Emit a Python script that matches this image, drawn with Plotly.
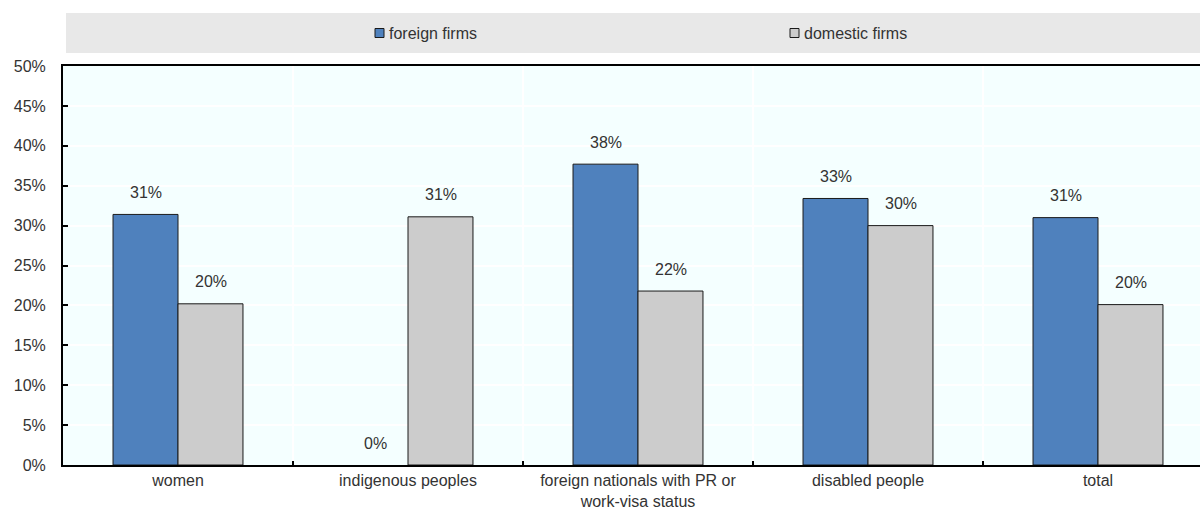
import plotly.graph_objects as go

# Share of firms, by group and ownership
categories = ["women", "indigenous peoples", "foreign nationals with PR or<br>work-visa status",
              "disabled people", "total"]
foreign_firms = [0.314, 0.0, 0.377, 0.334, 0.310]
domestic_firms = [0.202, 0.311, 0.218, 0.300, 0.201]
series_names = ["foreign firms", "domestic firms"]
series_colors = ["#4F81BD", "#CCCCCC"]
y_ticks = [0, 0.05, 0.10, 0.15, 0.20, 0.25, 0.30, 0.35, 0.40, 0.45, 0.50]

W, H = 1200, 511
M_L, M_R, M_T, M_B = 63, 0, 66, 46
PW, PH = W - M_L - M_R, H - M_T - M_B
FONT = "Liberation Sans, Arial, sans-serif"
TXT = "#333333"


def px(x):
    return (x - M_L) / PW


def py(y):
    return (H - M_B - y) / PH


fig = go.Figure()
for name, vals, col in zip(series_names, [foreign_firms, domestic_firms], series_colors):
    fig.add_trace(go.Bar(
        x=categories, y=vals, name=name,
        marker=dict(color=col,
                    line=dict(color="#1a1a1a", width=[0 if v == 0 else 1 for v in vals])),
        showlegend=False,
    ))

# value labels above the bars
annotations = []
for k, vals in enumerate([foreign_firms, domestic_firms]):
    shift = -32.5 if k == 0 else 32.5
    for c, v in zip(categories, vals):
        annotations.append(dict(
            x=c, y=v, xref="x", yref="y", text=f"{round(v * 100):.0f}%",
            showarrow=False, xshift=shift, yshift=22, yanchor="middle",
            font=dict(family=FONT, size=16, color=TXT),
        ))

# legend band
shapes = [dict(type="rect", xref="paper", yref="paper",
               x0=px(66), x1=1.0, y0=py(53), y1=py(13),
               fillcolor="#E8E8E8", line=dict(width=0), layer="below")]
for name, col, sx in zip(series_names, series_colors, [375, 790]):
    shapes.append(dict(type="rect", xref="paper", yref="paper",
                       x0=px(sx), x1=px(sx + 9), y0=py(37.5), y1=py(28.5),
                       fillcolor=col, line=dict(color="#1a1a1a", width=1)))
    annotations.append(dict(x=px(sx + 12), y=py(33), xref="paper", yref="paper",
                            text=name, showarrow=False, xanchor="left", yanchor="middle",
                            font=dict(family=FONT, size=16, color=TXT)))

fig.update_layout(
    width=W, height=H,
    margin=dict(l=M_L, r=M_R, t=M_T, b=M_B, pad=0),
    paper_bgcolor="white", plot_bgcolor="#F4FFFF",
    barmode="group", bargap=0.435, bargroupgap=0,
    font=dict(family=FONT, size=16, color=TXT),
    annotations=annotations, shapes=shapes,
    xaxis=dict(type="category", range=[-0.5, 4.5 - 13 / 230],
               tickson="boundaries", ticks="inside", ticklen=4, tickwidth=2, tickcolor="black",
               showgrid=True, gridcolor="white", gridwidth=2,
               showline=True, linecolor="black", linewidth=2, mirror=True,
               tickfont=dict(family=FONT, size=16, color=TXT)),
    yaxis=dict(range=[0, 0.5], tickvals=y_ticks, tickformat=".0%",
               ticks="inside", ticklen=5, tickwidth=2, tickcolor="black",
               showgrid=True, gridcolor="white", gridwidth=2, zeroline=False,
               showline=True, linecolor="black", linewidth=2,
               ticklabelstandoff=12,
               tickfont=dict(family=FONT, size=16, color=TXT)),
)

fig.write_html("out.html")
